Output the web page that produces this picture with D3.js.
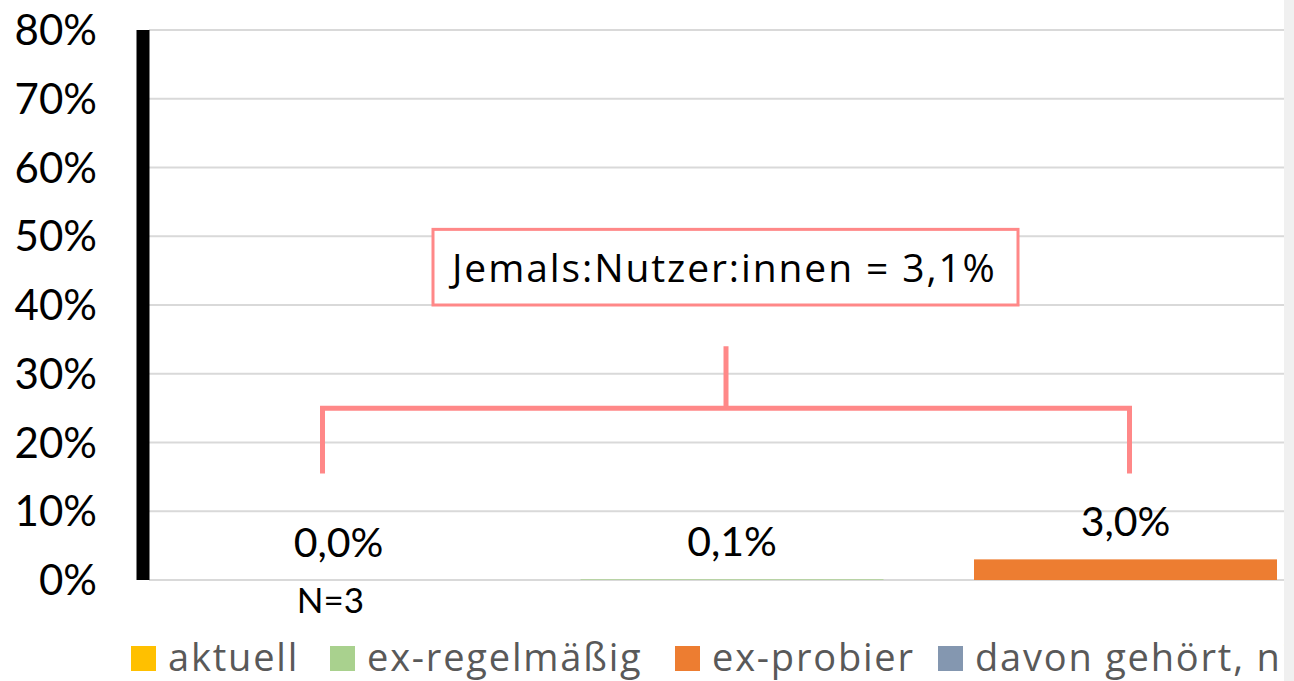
<!DOCTYPE html>
<html>
<head>
<meta charset="utf-8">
<script src="https://cdn.jsdelivr.net/npm/d3@7"></script>
<style>
  body { margin: 0; background: #fff; }
  svg { display: block; font-family: Lato, "Open Sans", sans-serif; }
</style>
</head>
<body>
<svg id="chart" width="1294" height="681"></svg>
<script>
// data
const seriesNames = ["aktuell", "ex-regelmäßig", "ex-probier", "davon gehört, nie probiert"];
const seriesColors = ["#FFC000", "#A9D18E", "#ED7D31", "#8497B0"];
const seriesValues = [0.0, 0.1, 3.0]; // 4th bar is outside the visible area
const yTicks = [0, 10, 20, 30, 40, 50, 60, 70, 80];
const categoryLabel = "N=3";
const noteText = "Jemals:Nutzer:innen = 3,1%";

const svg = d3.select("#chart");

const y = d3.scaleLinear().domain([0, 80]).range([580, 30]);
// plot continues past the right edge of the picture (cropped)
const x = d3.scaleBand().domain(seriesNames).range([149, 1708.5])
  .paddingInner(0.23).paddingOuter(0.0966);

const fmt = v => d3.format(".1f")(v).replace(".", ",") + "%";

// gridlines
svg.append("g").selectAll("line").data(yTicks).join("line")
  .attr("x1", 149).attr("x2", 1284)
  .attr("y1", d => y(d)).attr("y2", d => y(d))
  .attr("stroke", "#d9d9d9").attr("stroke-width", 2);

// y tick labels
svg.append("g").selectAll("text").data(yTicks).join("text")
  .attr("x", 97).attr("y", d => y(d) + 15)
  .attr("text-anchor", "end")
  .attr("font-size", 42).attr("fill", "#000")
  .text(d => d + "%");

// bars
const bars = seriesValues.map((v, i) => ({ name: seriesNames[i], value: v, color: seriesColors[i] }));
svg.append("g").selectAll("rect").data(bars).join("rect")
  .attr("x", d => x(d.name)).attr("width", x.bandwidth())
  .attr("y", d => y(d.value)).attr("height", d => y(0) - y(d.value))
  .attr("fill", d => d.color);

// value labels
svg.append("g").selectAll("text").data(bars).join("text")
  .attr("x", d => x(d.name) + x.bandwidth() / 2)
  .attr("y", d => y(d.value) - 23)
  .attr("text-anchor", "middle")
  .attr("font-size", 41).attr("fill", "#000")
  .text(d => fmt(d.value));

// thick black axis line
svg.append("line")
  .attr("x1", 143).attr("x2", 143).attr("y1", y(80)).attr("y2", y(0))
  .attr("stroke", "#000").attr("stroke-width", 13);

// category label
svg.append("text")
  .attr("x", x(seriesNames[0]) + x.bandwidth() / 2 - 8)
  .attr("y", 613)
  .attr("text-anchor", "middle")
  .attr("font-size", 35).attr("fill", "#000")
  .text(categoryLabel);

// bracket annotation
const pink = "#FF8888";
const xl = x(seriesNames[0]) + x.bandwidth() / 2 - 16;
const xr = x(seriesNames[2]) + x.bandwidth() / 2 + 4;
const xm = (xl + xr) / 2;
svg.append("path")
  .attr("d", `M${xl},${y(15.5)} V${y(25)} H${xr} V${y(15.5)}`)
  .attr("fill", "none").attr("stroke", pink).attr("stroke-width", 5);
svg.append("line")
  .attr("x1", xm).attr("x2", xm).attr("y1", y(34)).attr("y2", y(25))
  .attr("stroke", pink).attr("stroke-width", 5);

svg.append("rect")
  .attr("x", 433).attr("y", y(51))
  .attr("width", 585).attr("height", y(40) - y(51))
  .attr("fill", "#fff").attr("stroke", pink).attr("stroke-width", 3);
svg.append("text")
  .attr("x", 452).attr("y", 282)
  .attr("font-family", "'Open Sans', sans-serif")
  .attr("font-size", 39).attr("letter-spacing", 1.9).attr("fill", "#000")
  .text(noteText);

// legend
const legendX = [131, 330, 675, 938];
const legend = svg.append("g").selectAll("g").data(seriesNames).join("g")
  .attr("transform", (d, i) => `translate(${legendX[i]},646)`);
legend.append("rect").attr("width", 25).attr("height", 25)
  .attr("fill", (d, i) => seriesColors[i]);
legend.append("text").attr("x", 37).attr("y", 25)
  .attr("font-family", "'Open Sans', sans-serif")
  .attr("font-size", 38).attr("letter-spacing", 1.8).attr("fill", "#595959")
  .text(d => d);

// grey strip at the right edge
svg.append("rect").attr("x", 1284).attr("y", 0).attr("width", 10).attr("height", 681)
  .attr("fill", "#f0f0f0");
</script>
</body>
</html>
